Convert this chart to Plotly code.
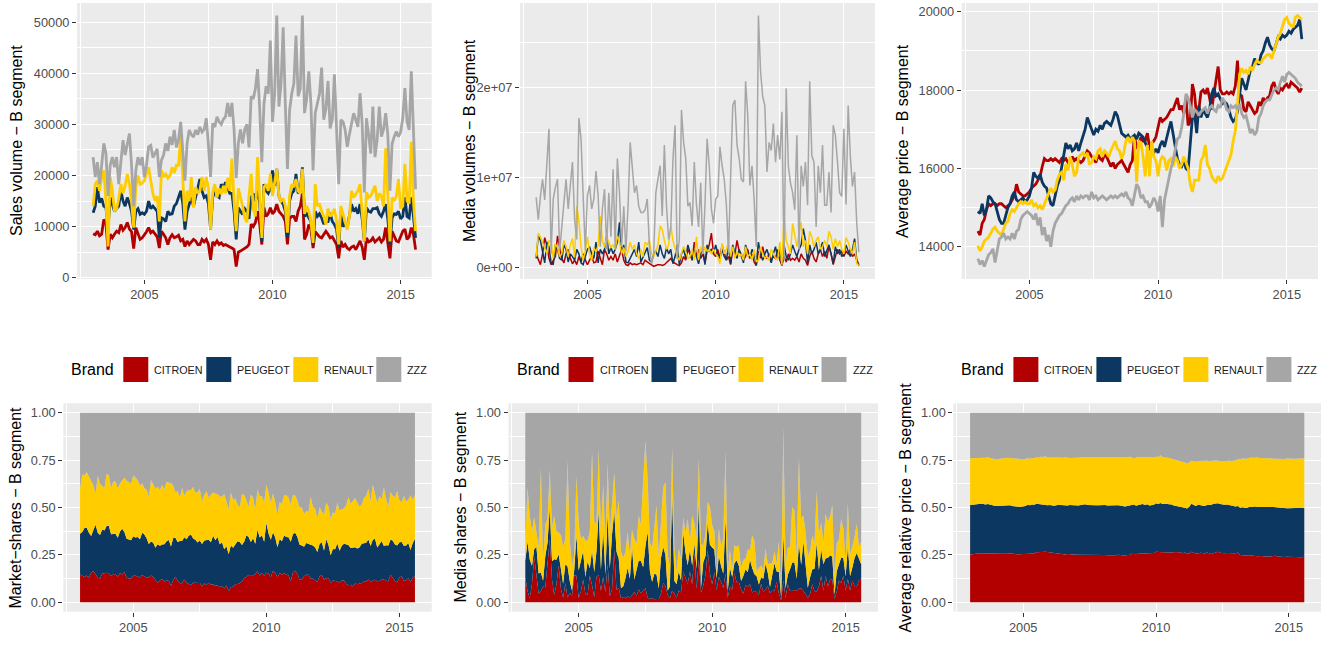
import numpy as np
import plotly.graph_objects as go

# ---- data: monthly, Jan 2003 .. Aug 2015 (152 months) ----
brands = ["CITROEN", "PEUGEOT", "RENAULT", "ZZZ"]
colors = {"CITROEN": "#B20000", "PEUGEOT": "#0C3760", "RENAULT": "#FFCC00", "ZZZ": "#A6A6A6"}
n_months = 152
x_years = 2003 + np.arange(n_months) / 12.0

sales_citroen = [
    8600, 8400, 9100, 8200, 8500, 11400, 10500, 5500, 8500, 7800, 8500, 9100,
    8800, 10400, 9300, 9800, 10800, 9500, 9000, 5700, 9800, 8500, 7500, 7800,
    8300, 9000, 9800, 8800, 9100, 8500, 8000, 5800, 9100, 8500, 7800, 6500,
    7800, 8400, 7800, 8000, 8300, 7200, 7500, 6100, 7200, 6500, 7100, 7500,
    7200, 6500, 6500, 7500, 7000, 7500, 6500, 3500, 7000, 6500, 7200, 6500,
    6800, 6300, 6500, 6200, 6000, 5800, 5500, 2200, 5000, 5200, 5500, 5800,
    6000, 6500, 10500, 10000, 10800, 13000, 10500, 6500, 13700, 12000, 12500, 13700,
    12500, 13000, 14400, 13000, 12500, 12000, 11000, 6500, 11500, 12000, 12000, 11000,
    13000, 14000, 16500, 7500, 8500, 10400, 9500, 5800, 9000, 8500, 8000, 7800,
    8500, 9100, 8500, 7800, 8000, 7200, 6500, 3800, 7200, 6000, 6500, 5800,
    5500, 6000, 6200, 5500, 6500, 7200, 6000, 3500, 7800, 7000, 7200, 7800,
    7000, 7500, 7800, 7000, 7500, 9800, 7000, 3800, 9100, 8000, 7200, 7000,
    8000, 9100, 9500, 7500, 8000, 9800, 8500, 5500,
]
sales_peugeot = [
    12700, 14000, 17700, 14700, 15500, 14000, 13700, 9800, 15700, 14500, 13000, 13500,
    14000, 17000, 15000, 14000, 15700, 14500, 13000, 9400, 13000, 13500, 12400, 12700,
    12400, 13000, 15000, 13500, 14000, 13500, 13000, 7800, 11700, 11500, 11000, 13000,
    12400, 12500, 14000, 14500, 15700, 17000, 14500, 9400, 13000, 14500, 15700, 14000,
    16000, 17500, 19300, 17000, 15700, 16000, 14500, 9400, 15700, 17000, 16000, 15700,
    18300, 17500, 18700, 17500, 16500, 16500, 13000, 7500, 13700, 13000, 12400, 13500,
    13000, 11500, 15700, 16500, 15000, 17000, 14500, 7100, 18300, 17000, 16500, 17500,
    21000, 18000, 21300, 16000, 15000, 14400, 13000, 7800, 15000, 16500, 17000, 20300,
    16500, 17000, 21600, 12000, 12500, 11700, 11000, 6500, 13000, 12000, 12500, 11700,
    10500, 11000, 11000, 12700, 11000, 10400, 9500, 5800, 13000, 10000, 10500, 9800,
    12000, 14400, 13000, 13500, 12500, 14400, 11500, 7100, 13700, 13000, 12800, 13500,
    13500, 13700, 12500, 12000, 13000, 14400, 11500, 6500, 11700, 12500, 12400, 13000,
    11500, 12000, 15700, 12000, 11700, 15700, 12000, 7800,
]
sales_renault = [
    14000, 18300, 19000, 17000, 19500, 21000, 15000, 6100, 19700, 17000, 13000, 13500,
    15500, 18300, 16500, 18000, 20300, 18300, 15000, 9800, 17700, 20000, 18300, 18500,
    19000, 20500, 21600, 19000, 16500, 15000, 16000, 11000, 21000, 19700, 20300, 19500,
    20000, 21600, 20500, 22000, 22000, 27600, 18000, 11000, 17000, 15000, 19700, 13700,
    17700, 16500, 17000, 19700, 17000, 19700, 17500, 9400, 16700, 18300, 15700, 17500,
    16300, 18000, 16500, 19500, 17000, 23300, 15000, 9100, 17500, 16000, 14000, 11700,
    10800, 16000, 20300, 13500, 12000, 23600, 16000, 7800, 17700, 18300, 17000, 20300,
    16000, 18500, 21300, 16000, 15000, 15500, 14000, 8800, 16000, 18300, 17700, 19300,
    17000, 16500, 21300, 12500, 14000, 13000, 11000, 6800, 18300, 14000, 14500, 13000,
    12000, 10400, 13500, 12000, 12500, 13500, 11000, 6500, 14000, 12500, 11000, 9400,
    12000, 17000, 15700, 16500, 17000, 18300, 13000, 7100, 16700, 15700, 16000, 17000,
    18000, 15000, 16500, 16000, 14000, 25300, 15000, 7100, 15700, 15000, 16000, 19300,
    13500, 14000, 22300, 15000, 14500, 26600, 15000, 9100,
]
sales_zzz = [
    23600, 19700, 22600, 18300, 22000, 26300, 24300, 16000, 22000, 23600, 21600, 23600,
    18300, 22500, 26900, 24000, 26500, 28200, 22000, 14000, 21000, 23600, 22000, 23600,
    19700, 22000, 25600, 25900, 23500, 24500, 25200, 19700, 23000, 24000, 26300, 24800,
    27600, 26000, 28900, 25500, 27000, 30500, 25000, 19000, 26300, 28900, 28000, 27500,
    28900, 28000, 29500, 28500, 29000, 31200, 25900, 19700, 30200, 29500, 31500, 30500,
    30000, 31000, 31500, 34200, 31500, 34200, 29000, 19500, 26300, 29000, 26300, 29000,
    30000, 25500, 35500, 35000, 37000, 40800, 33000, 22600, 34000, 37500, 36000, 46400,
    30500, 36000, 51300, 33500, 38000, 49000, 34000, 21300, 32800, 36000, 38000, 47400,
    35500, 37000, 51300, 32200, 35000, 40400, 34000, 21000, 32200, 34000, 36000, 41100,
    30900, 33000, 38500, 29200, 31000, 39800, 30000, 18300, 30900, 30500, 29000, 25600,
    28000, 30000, 32200, 30900, 29500, 36100, 30000, 16700, 31200, 28000, 24300, 33500,
    23600, 27000, 33500, 27600, 29000, 32200, 28000, 17000, 26200, 27600, 28600, 27600,
    28500, 31200, 37100, 30500, 28900, 40400, 30000, 17300,
]

# media volumes, in millions
media_citroen = [
    1.5, 0.8, 0.3, 1.5, 3.3, 2.5, 1.0, 0.3, 0.8, 1.2, 3.5, 2.0,
    1.0, 0.5, 1.5, 2.0, 1.0, 0.4, 0.8, 0.3, 1.2, 0.6, 1.5, 0.8,
    0.3, 0.8, 1.2, 0.5, 0.6, 1.8, 1.0, 0.3, 2.0, 1.5, 0.8, 1.2,
    0.8, 1.5, 0.6, 1.2, 2.0, 0.8, 0.3, 0.2, 0.5, 0.3, 0.4, 0.3,
    0.4, 0.5, 0.3, 0.8, 0.6, 0.4, 0.2, 0.1, 0.2, 0.3, 0.3, 0.2,
    0.3, 0.5, 0.8, 1.0, 0.6, 0.4, 0.3, 0.2, 0.5, 1.2, 0.8, 2.0,
    1.5, 0.8, 2.8, 1.2, 2.0, 1.0, 1.5, 0.5, 1.8, 2.5, 3.8, 1.5,
    1.2, 2.0, 1.0, 2.5, 1.5, 0.8, 1.2, 0.3, 2.0, 1.5, 3.0, 1.8,
    1.5, 0.8, 1.2, 2.0, 1.0, 1.5, 0.6, 0.2, 1.8, 1.0, 2.3, 1.2,
    1.0, 1.5, 0.8, 1.2, 1.0, 2.0, 0.8, 0.2, 1.2, 0.6, 1.5, 0.8,
    1.0, 0.8, 1.2, 0.6, 1.5, 1.0, 0.8, 0.2, 1.2, 1.8, 1.0, 0.6,
    1.5, 2.0, 1.2, 1.8, 1.0, 2.3, 1.5, 0.3, 1.2, 2.0, 1.5, 1.8,
    1.2, 1.8, 1.5, 2.0, 1.2, 1.5, 0.8, 0.3,
]
media_peugeot = [
    1.0, 3.5, 3.0, 1.5, 0.5, 2.8, 2.3, 0.5, 0.3, 2.5, 2.0, 1.0,
    0.8, 2.5, 2.0, 0.6, 1.5, 1.2, 0.8, 2.0, 1.5, 0.5, 0.3, 1.2,
    2.0, 2.3, 1.5, 1.0, 2.8, 0.5, 2.0, 1.5, 2.0, 3.5, 1.5, 2.2,
    1.5, 2.0, 2.8, 5.0, 1.5, 2.5, 0.6, 0.5, 1.0, 1.5, 2.0, 1.2,
    2.8, 0.6, 1.2, 1.8, 2.2, 0.8, 0.6, 1.5, 1.8, 1.2, 2.5, 1.5,
    1.0, 2.2, 1.5, 2.0, 0.4, 1.2, 2.5, 0.3, 1.5, 2.0, 1.0, 2.5,
    1.5, 0.8, 2.0, 1.3, 0.4, 1.5, 2.0, 0.3, 2.5, 1.8, 2.0, 1.5,
    2.5, 1.5, 1.0, 2.0, 1.2, 0.8, 2.3, 0.4, 2.5, 1.5, 1.0, 2.0,
    1.2, 0.5, 2.5, 1.8, 1.0, 2.0, 1.5, 0.3, 2.8, 1.5, 0.8, 1.5,
    2.0, 1.2, 0.5, 1.5, 2.3, 1.0, 2.0, 0.3, 2.5, 1.2, 0.8, 1.5,
    2.5, 1.8, 1.2, 2.0, 2.5, 4.3, 3.0, 0.5, 2.5, 1.5, 2.0, 2.8,
    1.5, 2.0, 2.8, 1.2, 1.8, 2.5, 1.5, 0.4, 2.3, 1.5, 2.0, 1.2,
    1.5, 2.5, 1.8, 1.2, 2.0, 3.2, 0.8, 0.2,
]
media_renault = [
    1.2, 3.8, 3.4, 2.8, 2.3, 1.5, 3.0, 2.8, 1.0, 2.6, 2.2, 1.2,
    1.5, 3.0, 2.3, 1.2, 2.5, 3.2, 1.1, 6.8, 5.2, 2.3, 0.8, 1.8,
    3.4, 1.5, 0.8, 2.2, 1.7, 2.5, 5.7, 3.0, 2.2, 3.4, 2.8, 2.2,
    2.5, 2.0, 3.5, 2.8, 1.5, 2.2, 1.2, 1.8, 2.8, 2.0, 2.5, 1.5,
    1.0, 2.0, 1.2, 2.8, 2.5, 3.0, 1.5, 1.2, 1.8, 2.5, 4.6, 4.2,
    3.0, 2.0, 2.5, 4.6, 3.0, 2.0, 1.2, 0.8, 1.5, 2.3, 1.8, 1.0,
    1.2, 2.0, 0.8, 3.4, 0.8, 2.3, 1.5, 2.3, 1.8, 2.0, 1.5, 2.0,
    1.5, 1.2, 0.4, 2.7, 1.5, 2.0, 2.8, 1.2, 2.3, 1.0, 1.8, 1.2,
    1.5, 0.8, 2.3, 1.2, 1.5, 0.8, 2.0, 0.6, 0.8, 2.3, 1.5, 1.0,
    1.2, 0.8, 2.0, 1.5, 1.0, 0.8, 2.8, 0.3, 5.9, 3.0, 2.3, 1.5,
    4.9, 3.4, 2.3, 3.8, 5.0, 2.3, 3.0, 1.5, 4.0, 3.4, 2.3, 3.0,
    3.4, 2.0, 2.3, 3.0, 2.3, 4.0, 3.4, 2.0, 3.2, 2.3, 3.0, 2.0,
    1.5, 3.3, 2.8, 2.0, 1.5, 2.8, 0.4, 0.3,
]
media_zzz = [
    7.8, 5.3, 7.9, 9.8, 7.5, 11.3, 15.4, 1.5, 7.6, 8.9, 9.8, 1.8,
    5.0, 7.2, 9.8, 6.5, 9.1, 11.7, 5.3, 3.1, 16.6, 14.3, 7.9, 1.9,
    8.0, 9.1, 6.5, 7.6, 10.7, 8.0, 2.3, 6.5, 8.7, 2.0, 8.3, 3.4,
    10.9, 2.0, 12.1, 8.3, 2.3, 6.8, 1.8, 6.8, 13.9, 10.6, 8.3, 9.1,
    6.8, 6.1, 6.1, 6.4, 7.6, 2.3, 0.4, 1.5, 8.3, 9.8, 11.3, 5.7,
    13.6, 6.8, 3.1, 4.4, 12.0, 15.8, 0.9, 3.1, 17.5, 13.9, 12.1, 6.8,
    7.2, 4.6, 11.7, 7.0, 4.5, 9.4, 1.6, 7.0, 14.3, 11.3, 6.5, 4.9,
    7.6, 7.9, 13.4, 11.3, 9.8, 7.0, 1.6, 10.0, 18.0, 18.6, 13.6, 12.1,
    9.8, 9.5, 20.7, 16.9, 9.1, 11.3, 7.5, 2.3, 28.0, 21.8, 19.0, 18.0,
    10.6, 13.9, 13.0, 16.0, 11.7, 14.7, 12.0, 17.3, 0.8, 19.9, 11.3, 9.4,
    8.3, 6.4, 14.7, 2.0, 11.3, 9.0, 11.7, 6.9, 20.7, 12.4, 11.7, 4.5,
    11.3, 8.3, 13.6, 6.9, 6.9, 10.6, 6.1, 15.8, 14.7, 11.7, 8.3, 7.9,
    15.4, 7.0, 18.0, 12.4, 9.0, 10.6, 4.9, 1.7,
]

price_citroen = [
    14400, 14300, 14600, 14700, 14950, 15100, 15050, 15100, 15100, 15050, 15100, 15100,
    15050, 15000, 15050, 15100, 15200, 15300, 15600, 15400, 15350, 15300, 15300, 15350,
    15400, 15500, 15550, 15600, 15700, 15800, 16050, 16250, 16200, 16200, 16250, 16200,
    16250, 16200, 16150, 16250, 16200, 16250, 16150, 16200, 16300, 16200, 16250, 16200,
    16150, 16200, 16350, 16450, 16400, 16300, 16250, 16150, 16350, 16250, 16200, 16350,
    16300, 16150, 16050, 16150, 16000, 16100, 16150, 16200, 16100, 16000, 15900, 16100,
    16200, 16850, 16500, 16600, 16800, 16700, 16700, 16900, 16550, 16650, 16700, 16800,
    17100, 17300, 17200, 17250, 17300, 17400, 17500, 17500, 17650, 17800, 17500, 17600,
    17400, 17800, 17100, 17200, 18150, 17900, 17300, 17500, 17950, 18000, 17900, 18050,
    17800, 17500, 17900, 18200, 18600, 18000, 17900, 17900, 17950, 17900, 17950, 17900,
    18100, 18750, 17900, 17850, 17500, 17450, 17700, 17600, 17500, 17400, 17450, 17700,
    17600, 17800, 17700, 17800, 17850, 18100, 18200, 18000, 17900, 18050, 18000, 18100,
    18150, 18050, 18200, 18150, 18100, 18050, 17950, 18050,
]
price_peugeot = [
    14900, 14850, 15100, 14800, 14950, 15300, 15250, 15150, 15100, 14900, 14700, 14600,
    14600, 14800, 15000, 15100, 15300, 15400, 15200, 15150, 15200, 15250, 15150, 15200,
    15300, 15500, 15900, 15800, 15750, 15850, 15650, 15550, 15500, 15300, 15100, 15050,
    15350, 15550, 15700, 16000, 16350, 16650, 16500, 16600, 16450, 16500, 16650, 16450,
    16650, 16800, 17000, 17300, 17150, 16950, 16850, 17000, 16950, 17100, 17000, 17150,
    17200, 17150, 17100, 17250, 17450, 17350, 17100, 16900, 16850, 16800, 16850, 16750,
    16800, 16850, 16750, 16900, 16850, 16800, 16650, 16550, 16500, 16450, 16400, 16500,
    16400, 16600, 16700, 16550, 16800, 17000, 17200, 16900, 16500, 16250, 16100, 16050,
    16200, 16000, 15950, 16600, 17300, 17400, 16900, 17600, 17300, 17500, 17400, 17300,
    17500, 17900, 18050, 17850, 17900, 17750, 17650, 17700, 17650, 17500, 17300, 17200,
    17250, 17450, 17900, 18300, 18150, 18000, 18250, 18500, 18600, 18800, 18700, 18650,
    18900, 19000, 19200, 19350, 19150, 19050, 19000, 19200, 19350, 19300, 19400, 19350,
    19400, 19500, 19450, 19550, 19600, 19650, 19800, 19300,
]
price_renault = [
    14030, 13900, 14000, 14150, 14200, 14250, 14350, 14450, 14500, 14400, 14350, 14300,
    14450, 14600, 14650, 14850, 14950, 14900, 15000, 15100, 15150, 15100, 15150, 15100,
    15100, 15200, 15050, 15100, 15000, 15050, 14950, 15100, 15200, 15400, 15500, 15400,
    15450, 15700, 15850, 15900, 15700, 16100, 15950, 16300, 16100, 15800, 15900, 16300,
    16350, 16400, 16300, 16400, 16100, 16150, 16300, 16250, 16450, 16500, 16300, 16450,
    16400, 16300, 16450, 16600, 16700, 16500, 16450, 16250, 16400, 16700, 16800, 16650,
    16800, 16700, 15650, 16700, 16650, 16300, 15800, 16600, 15800, 16700, 16300, 16200,
    15800, 16200, 16300, 16250, 15950, 16200, 16250, 16050, 16300, 16200, 16000, 16100,
    16300, 16150, 16000, 15600, 15400, 15700, 15700, 15700, 16200, 16300, 16600, 16100,
    16000, 15800, 15700, 15650, 15800, 15700, 15750, 15900, 16000, 16200, 16350, 16700,
    16950, 17600, 18400, 18550, 18450, 18500, 18400, 18600, 18500, 18650, 18750, 18700,
    18700, 18800, 18850, 18900, 18900, 18800, 19000, 19200, 19350, 19450, 19600, 19800,
    19850, 19700, 19650, 19600, 19850, 19900, 19850, 19800,
]
price_zzz = [
    13700, 13550, 13650, 13500, 13650, 13800, 13850, 13950, 13600, 13900, 14200, 14250,
    14350, 14200, 14250, 14200, 14350, 14200, 14400, 14450, 14700, 14800, 14850, 14900,
    14850, 14800, 14700, 14850, 14550, 14750, 14300, 14500, 14150, 14300, 14000, 14400,
    14600, 14700, 14800, 14850, 14950, 15050, 15100, 15200, 15250, 15150, 15300, 15200,
    15300, 15250, 15300, 15300, 15200, 15400, 15250, 15300, 15200, 15250, 15300, 15250,
    15200, 15250, 15300, 15250, 15300, 15250, 15300, 15350, 15300, 15400, 15250, 15200,
    15050, 15300, 15600, 15500, 15250, 15300, 15150, 15150, 15000, 15100, 15250, 15150,
    14900, 15300, 14500, 15200, 15500, 15750, 16000, 16200, 16500, 16750, 16800, 17050,
    17400, 17900, 17800, 17600, 17300, 17500, 17450, 17350, 17450, 17500, 17550, 17400,
    17550, 17600, 17500, 17450, 17600, 17550, 17800, 17700, 17500, 17450, 17600, 17550,
    17600, 17500, 17650, 17400, 17300, 17350, 17100, 16900, 17000, 16850, 16950, 17300,
    17400, 17600, 17700, 17750, 17750, 17900, 18000, 18050, 18000, 18200, 18350, 18200,
    18400, 18450, 18400, 18350, 18300, 18200, 18150, 18100,
]

sales = dict(zip(brands, [sales_citroen, sales_peugeot, sales_renault, sales_zzz]))
media = dict(zip(brands, [np.array(v) * 1e6 for v in
                          [media_citroen, media_peugeot, media_renault, media_zzz]]))
price = dict(zip(brands, [price_citroen, price_peugeot, price_renault, price_zzz]))

for d in (sales, media, price):
    for b in brands:
        assert len(d[b]) == n_months, (b, len(d[b]))

# ---- layout geometry (pixels of the 1330x646 page) ----
W, H = 1330, 646
FONT = "Liberation Sans, Arial, sans-serif"


def xdom(a, b):
    return [a / W, b / W]


def ydom(top, bottom):
    return [1 - bottom / H, 1 - top / H]


top_y = (3, 279)
bot_y = (403.3, 611.7)
panels = [
    dict(x=(77, 431.7), y=top_y),
    dict(x=(520, 875), y=top_y),
    dict(x=(961.7, 1318), y=top_y),
    dict(x=(63.3, 431.7), y=bot_y),
    dict(x=(508.5, 878), y=bot_y),
    dict(x=(953.4, 1321), y=bot_y),
]

span = x_years[-1] - x_years[0]
x_range = [x_years[0] - 0.05 * span, x_years[-1] + 0.05 * span]


def yrange(series):
    allv = np.concatenate([np.asarray(s, dtype=float) for s in series])
    lo, hi = allv.min(), allv.max()
    pad = 0.05 * (hi - lo)
    return [lo - pad, hi + pad]


fig = go.Figure()

# top row: lines
for i, (data, lw) in enumerate([(sales, 2.8), (media, 1.5), (price, 2.8)]):
    ax = "" if i == 0 else str(i + 1)
    for b in brands:
        fig.add_trace(go.Scatter(
            x=x_years, y=data[b], mode="lines", name=b, showlegend=False,
            line=dict(color=colors[b], width=lw),
            xaxis="x" + ax, yaxis="y" + ax, hoverinfo="skip"))

# bottom row: stacked shares (plotly normalises each month to 1)
for i, data in enumerate([sales, media, price]):
    ax = str(i + 4)
    for j, b in enumerate(brands):
        fig.add_trace(go.Scatter(
            x=x_years, y=data[b], mode="lines", name=b, showlegend=False,
            stackgroup="s" + ax, groupnorm="fraction" if j == 0 else None,
            line=dict(color=colors[b], width=0), fillcolor=colors[b],
            xaxis="x" + ax, yaxis="y" + ax, hoverinfo="skip"))

tick_style = dict(
    showline=False, zeroline=False, ticks="outside", ticklen=4, tickwidth=1.1,
    tickcolor="#333333", showgrid=True, gridcolor="white", gridwidth=1.2,
    automargin=False,
    tickfont=dict(family=FONT, size=12.8, color="#4D4D4D"),
)

y_specs = [
    dict(range=yrange(sales.values()), tickmode="linear", tick0=0, dtick=10000,
         tickformat="d", minor=dict(dtick=5000, tick0=0)),
    dict(range=yrange(media.values()), tickmode="array", tickvals=[0, 1e7, 2e7],
         ticktext=["0e+00", "1e+07", "2e+07"], minor=dict(dtick=5e6, tick0=0)),
    dict(range=yrange(price.values()), tickmode="linear", tick0=14000, dtick=2000,
         tickformat="d", minor=dict(dtick=1000, tick0=13000)),
]
share_y = dict(range=[-0.05, 1.05], tickmode="array", tickvals=[0, 0.25, 0.5, 0.75, 1],
               ticktext=["0.00", "0.25", "0.50", "0.75", "1.00"],
               minor=dict(dtick=0.125, tick0=0))
y_specs += [share_y, share_y, share_y]

layout = dict(
    width=W, height=H, margin=dict(l=0, r=0, t=0, b=0),
    paper_bgcolor="white", plot_bgcolor="#EBEBEB", showlegend=False,
)
for i, p in enumerate(panels):
    ax = "" if i == 0 else str(i + 1)
    xa = dict(tick_style, domain=xdom(*p["x"]), anchor="y" + ax, range=x_range,
              tickmode="linear", tick0=2005, dtick=5,
              minor=dict(dtick=2.5, tick0=2002.5, showgrid=True,
                         gridcolor="white", gridwidth=0.55))
    spec = dict(y_specs[i])
    minor = dict(spec.pop("minor"), showgrid=True, gridcolor="white", gridwidth=0.55)
    ya = dict(tick_style, domain=ydom(*p["y"]), anchor="x" + ax, minor=minor, **spec)
    layout["xaxis" + ax] = xa
    layout["yaxis" + ax] = ya

fig.update_layout(**layout)

# y axis titles
titles = [
    ("Sales volume \u2212 B segment", 17),
    ("Media volumes \u2212 B segment", 470),
    ("Average price \u2212 B segment", 903),
    ("Market\u2212shares \u2212 B segment", 15),
    ("Media shares \u2212 B segment", 460),
    ("Average relative price \u2212 B segment", 905),
]
for (txt, xpx), p in zip(titles, panels):
    yc = (p["y"][0] + p["y"][1]) / 2
    fig.add_annotation(text=txt, x=xpx / W, y=1 - yc / H, xref="paper", yref="paper",
                       textangle=-90, showarrow=False, xanchor="center", yanchor="middle",
                       font=dict(family=FONT, size=16, color="black"))

# legends above the three share panels
key_offsets = [60, 143, 230, 313]
key_top, key_bot = 357, 382
for p in panels[3:]:
    left = p["x"][0]
    fig.add_annotation(text="Brand", x=(left + 6) / W, y=1 - 369.5 / H,
                       xref="paper", yref="paper", showarrow=False,
                       xanchor="left", yanchor="middle",
                       font=dict(family=FONT, size=16, color="black"))
    for b, off in zip(brands, key_offsets):
        fig.add_shape(type="rect", xref="paper", yref="paper",
                      x0=(left + off) / W, x1=(left + off + 25) / W,
                      y0=1 - key_bot / H, y1=1 - key_top / H,
                      fillcolor=colors[b], line=dict(width=0))
        fig.add_annotation(text=b, x=(left + off + 29) / W, y=1 - 369.5 / H,
                           xref="paper", yref="paper", showarrow=False,
                           xanchor="left", yanchor="middle",
                           font=dict(family=FONT, size=10.8, color="#1A1A1A"))

# the page body has a default 8px margin; drop it so the figure sits at (0, 0)
fig.write_html("out.html", config={"displayModeBar": False},
               post_script="document.body.style.margin = '0px';")
